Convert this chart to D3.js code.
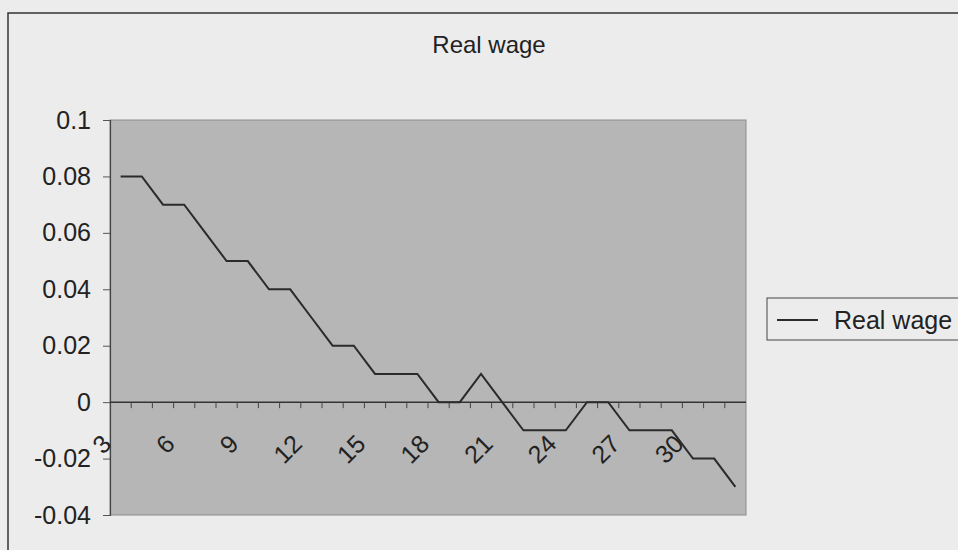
<!DOCTYPE html>
<html>
<head>
<meta charset="utf-8">
<script src="https://cdn.jsdelivr.net/npm/d3@7"></script>
<style>
  body { margin: 0; background: #ececec; }
  text { font-family: "Liberation Sans", Arial, sans-serif; fill: #222; }
</style>
</head>
<body>
<div id="chart"></div>
<script>
var categories = [3, 4, 5, 6, 7, 8, 9, 10, 11, 12, 13, 14, 15, 16, 17, 18, 19, 20, 21, 22, 23, 24, 25, 26, 27, 28, 29, 30, 31, 32]
var realWage = [0.08, 0.08, 0.07, 0.07, 0.06, 0.05, 0.05, 0.04, 0.04, 0.03, 0.02, 0.02, 0.01, 0.01, 0.01, 0, 0, 0.01, 0, -0.01, -0.01, -0.01, 0, 0, -0.01, -0.01, -0.01, -0.02, -0.02, -0.03]
var yTicks = [0.1, 0.08, 0.06, 0.04, 0.02, 0, -0.02, -0.04]
var xLabels = [3, 6, 9, 12, 15, 18, 21, 24, 27, 30]
var seriesName = 'Real wage'

var width = 958
var height = 550

var svg = d3.select('#chart').append('svg').attr('width', width).attr('height', height)

svg.append('rect').attr('width', width).attr('height', height).attr('fill', '#ececec')

// chart frame runs off the page on right and bottom, like the scan
svg.append('rect').attr('x', 8).attr('y', 13).attr('width', 1000).attr('height', 600)
  .attr('fill', 'none').attr('stroke', '#333').attr('stroke-width', 1.5)

var x = d3.scaleBand().domain(categories).range([110, 746]).padding(0)
var y = d3.scaleLinear().domain([-0.04, 0.1]).range([515, 120])

// plot area
svg.append('rect').attr('x', 110).attr('y', y(0.1)).attr('width', 636).attr('height', y(-0.04) - y(0.1))
  .attr('fill', '#b6b6b6').attr('stroke', '#8c8c8c').attr('stroke-width', 1)

svg.append('text').attr('x', 489).attr('y', 53).attr('text-anchor', 'middle')
  .style('font-size', '24px').text(seriesName)

// y axis
var yAxis = svg.append('g').attr('transform', 'translate(110,0)')
  .call(d3.axisLeft(y).tickValues(yTicks).tickSize(7).tickPadding(12)
    .tickFormat(function(d) { return String(+d.toFixed(2)) }))
yAxis.select('.domain').attr('stroke', '#444').attr('stroke-width', 1.2)
yAxis.selectAll('.tick line').attr('stroke', '#555')
yAxis.selectAll('text').style('font-size', '25px').attr('fill', '#222')

// x axis sits on zero, ticks between categories
var y0 = y(0)
svg.append('line').attr('x1', 110).attr('x2', 746).attr('y1', y0).attr('y2', y0)
  .attr('stroke', '#333').attr('stroke-width', 1.5)

svg.append('g').selectAll('line')
  .data(categories.slice(1)).join('line')
  .attr('x1', d => x(d)).attr('x2', d => x(d))
  .attr('y1', y0).attr('y2', y0 + 6)
  .attr('stroke', '#444').attr('stroke-width', 1)

var xAxis = svg.append('g').attr('transform', 'translate(0,' + y0 + ')')
  .call(d3.axisBottom(x).tickValues(xLabels).tickSize(0))
xAxis.select('.domain').remove()
xAxis.selectAll('text')
  .attr('x', 0).attr('y', 0).attr('dy', '0.35em')
  .attr('text-anchor', 'end')
  .attr('transform', 'translate(-14,37) rotate(-45)')
  .style('font-size', '25px').attr('fill', '#222')

// the series
var line = d3.line()
  .x(function(d, i) { return x(categories[i]) + x.bandwidth() / 2 })
  .y(function(d) { return y(d) })

svg.append('path').datum(realWage)
  .attr('d', line).attr('fill', 'none')
  .attr('stroke', '#2b2b2b').attr('stroke-width', 2)

// legend box (cut by page edge)
var lg = svg.append('g').attr('transform', 'translate(767,298)')
lg.append('rect').attr('width', 220).attr('height', 42)
  .attr('fill', '#ececec').attr('stroke', '#444').attr('stroke-width', 1)
lg.append('line').attr('x1', 10).attr('x2', 51).attr('y1', 22).attr('y2', 22)
  .attr('stroke', '#2b2b2b').attr('stroke-width', 2)
lg.append('text').attr('x', 67).attr('y', 22).attr('dy', '0.35em')
  .style('font-size', '25px').text(seriesName)
</script>
</body>
</html>
